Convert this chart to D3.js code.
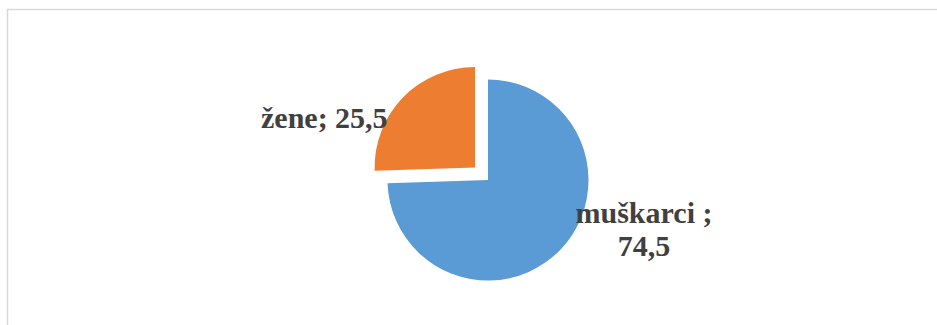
<!DOCTYPE html>
<html>
<head>
<meta charset="utf-8">
<script src="https://cdn.jsdelivr.net/npm/d3@7"></script>
<style>
  html, body { margin: 0; padding: 0; background: #fff; }
  svg { display: block; }
</style>
</head>
<body>
<svg id="chart" width="937" height="325"></svg>
<script>
// Gender split (percent)
const categories = ["muškarci", "žene"];
const values = [74.5, 25.5];
const colors = ["#5B9BD5", "#ED7D31"];
const exploded = [false, true];

const svg = d3.select("#chart");
const W = 937, H = 325;

// chart area frame
svg.append("rect")
  .attr("x", 7.5).attr("y", 9.5)
  .attr("width", W).attr("height", H)
  .attr("fill", "#fff")
  .attr("stroke", "#d9d9d9")
  .attr("stroke-width", 1.5);

const cx = 488, cy = 180, r = 100.5, explode = 18;

const pie = d3.pie().sort(null).value(d => d.value);
const arcs = pie(categories.map((c, i) => ({ name: c, value: values[i], i })));
const arc = d3.arc().innerRadius(0).outerRadius(r);

const g = svg.append("g").attr("transform", `translate(${cx},${cy})`);

g.selectAll("path")
  .data(arcs)
  .join("path")
  .attr("d", arc)
  .attr("fill", d => colors[d.data.i])
  .attr("transform", d => {
    if (!exploded[d.data.i]) return null;
    const a = (d.startAngle + d.endAngle) / 2;
    return `translate(${explode * Math.sin(a)},${-explode * Math.cos(a)})`;
  });

// data labels
const fmt = v => String(v).replace(".", ",");
const labelStyle = sel => sel
  .attr("font-family", "'Liberation Serif', 'Times New Roman', serif")
  .attr("font-weight", "bold")
  .attr("font-size", 30)
  .attr("fill", "#404040");

const labels = [
  { i: 1, lines: [`${categories[1]}; ${fmt(values[1])}`], x: 261, y: 128, anchor: "start" },
  { i: 0, lines: [`${categories[0]} ;`, fmt(values[0])], x: 644, y: 223, anchor: "middle" }
];

labels.forEach(l => {
  const t = svg.append("text")
    .attr("x", l.x).attr("y", l.y)
    .attr("text-anchor", l.anchor)
    .call(labelStyle);
  l.lines.forEach((line, k) => {
    t.append("tspan")
      .attr("x", l.x)
      .attr("dy", k === 0 ? 0 : 33)
      .text(line);
  });
});
</script>
</body>
</html>
